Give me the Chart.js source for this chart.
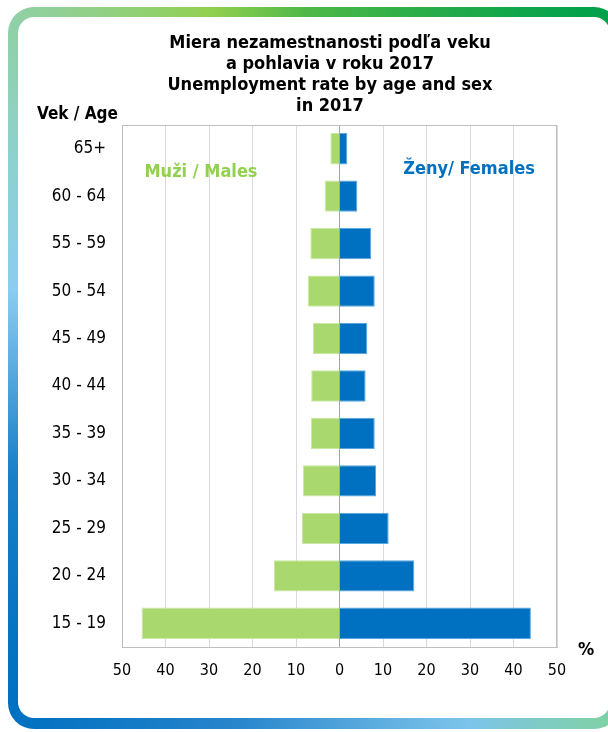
<!DOCTYPE html>
<html>
<head>
<meta charset="utf-8">
<script src="https://cdn.jsdelivr.net/npm/chart.js@4"></script>
<style>
html, body { margin: 0; padding: 0; background: #fff; }
#wrap { position: relative; width: 608px; height: 732px; overflow: hidden; }
#frame {
    position: absolute; left: 8px; top: 7px; width: 612px; height: 722px; border-radius: 26px;
    background: conic-gradient(from 0deg at 296px 359px,
        #50b848 0deg, #00a04c 40deg, #30b080 90deg, #80d0a8 140deg, #7cc4ea 155deg,
        #2a86cc 190deg, #0070c0 220deg, #1a80c8 250deg, #8ccdf0 285deg, #8ed2d0 305deg,
        #90d0a0 322deg, #92d050 345deg, #50b848 360deg);
}
#inner { position: absolute; left: 10px; top: 10px; right: 10px; bottom: 11px; background: #fff; border-radius: 16px; }
canvas { position: absolute; left: 0; top: 0; }
</style>
</head>
<body>
<div id="wrap">
    <div id="frame"><div id="inner"></div></div>
    <canvas id="chart" width="608" height="732"></canvas>
</div>
<script>
const FONT = "'DejaVu Sans Condensed', 'DejaVu Sans', sans-serif";

// age groups, top to bottom
const ageGroups = ['65+', '60 - 64', '55 - 59', '50 - 54', '45 - 49', '40 - 44', '35 - 39', '30 - 34', '25 - 29', '20 - 24', '15 - 19'];
// unemployment rate in %, 2017
const males = [2.1, 3.4, 6.7, 7.3, 6.1, 6.5, 6.6, 8.4, 8.7, 15.1, 45.5];
const females = [1.8, 4.1, 7.3, 8.1, 6.4, 6.0, 8.1, 8.4, 11.3, 17.2, 44.0];

const titleLines = ['Miera nezamestnanosti podľa veku', 'a pohlavia v roku 2017', 'Unemployment rate by age and sex', 'in 2017'];

// texts around the plot
const textPlugin = {
    id: 'texts',
    afterDraw(chart) {
        const c = chart.ctx;
        const area = chart.chartArea;
        c.save();
        c.textBaseline = 'alphabetic';
        c.fillStyle = '#000';
        c.textAlign = 'center';
        c.font = 'bold 18px ' + FONT;
        titleLines.forEach((line, i) => c.fillText(line, 330, 48 + i * 21));

        c.textAlign = 'left';
        c.font = 'bold 17px ' + FONT;
        c.fillText('Vek / Age', 37, 119);

        c.textAlign = 'center';
        c.font = 'bold 18px ' + FONT;
        c.fillStyle = '#92d050';
        c.fillText('Muži / Males', 201, 177);
        c.fillStyle = '#0070c0';
        c.fillText('Ženy/ Females', 469, 174);

        c.fillStyle = '#000';
        c.font = 'bold 18px ' + FONT;
        c.fillText('%', 586, 655);

        // plot frame
        c.strokeStyle = '#bfbfbf';
        c.lineWidth = 1;
        c.strokeRect(area.left + 0.5, area.top + 0.5, area.right - area.left - 1, area.bottom - area.top);
        c.restore();
    }
};

const ctx = document.getElementById('chart').getContext('2d');

const myChart = new Chart(ctx, {
    type: 'bar',
    data: {
        labels: ageGroups,
        datasets: [{
            label: 'Muži / Males',
            data: males.map(v => -v),
            backgroundColor: '#a9d86e',
            borderColor: '#c9e8a4',
            borderWidth: 1
        }, {
            label: 'Ženy/ Females',
            data: females,
            backgroundColor: '#0070c0',
            borderColor: '#5aa6e0',
            borderWidth: 1
        }]
    },
    options: {
        indexAxis: 'y',
        responsive: false,
        animation: false,
        barPercentage: 0.66,
        categoryPercentage: 1,
        layout: {
            padding: { left: 22, right: 51, top: 125, bottom: 45 }
        },
        plugins: {
            legend: { display: false },
            title: { display: false },
            tooltip: { enabled: false }
        },
        scales: {
            x: {
                type: 'linear',
                min: -50,
                max: 50,
                stacked: true,
                ticks: {
                    stepSize: 10,
                    callback: v => Math.abs(v),
                    color: '#000',
                    font: { family: FONT, size: 16 },
                    padding: 14
                },
                grid: {
                    color: c => (c.tick && c.tick.value === 0) ? '#a6a6a6' : '#d9d9d9',
                    drawTicks: false
                },
                border: { color: '#bfbfbf' },
                afterFit: s => { s.height = 40; }
            },
            y: {
                stacked: true,
                ticks: {
                    color: '#000',
                    font: { family: FONT, size: 17 },
                    padding: 16
                },
                grid: { display: false, drawTicks: false },
                border: { color: '#bfbfbf' },
                afterFit: s => { s.width = 100; }
            }
        }
    },
    plugins: [textPlugin]
});
</script>
</body>
</html>
